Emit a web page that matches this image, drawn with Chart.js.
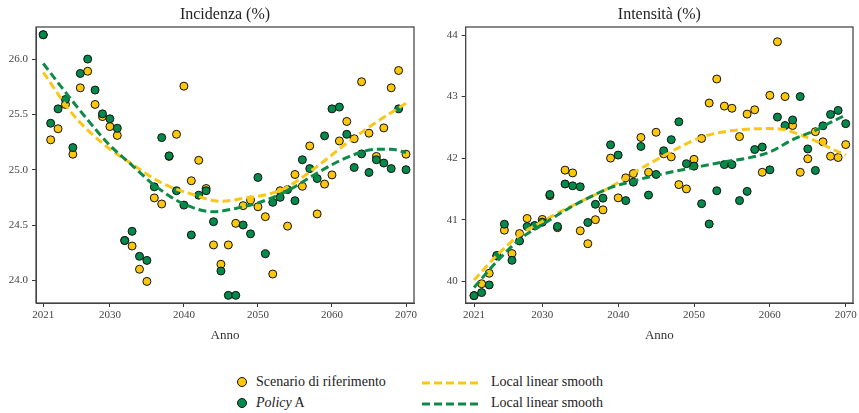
<!DOCTYPE html>
<html>
<head>
<meta charset="utf-8">
<script src="https://cdn.jsdelivr.net/npm/chart.js@4.4.1/dist/chart.umd.min.js"></script>
<style>
  html, body { margin:0; padding:0; background:#fff; overflow:hidden; }
  body { width:859px; height:413px; position:relative; font-family:"Liberation Serif", "DejaVu Serif", serif; }
  canvas { position:absolute; top:0; }
  #c1 { left:0; }
  #c2 { left:430px; }
  .leg { position:absolute; font-size:14px; color:#222; line-height:16px; white-space:nowrap; }
  .dot { position:absolute; width:8px; height:8px; border-radius:50%; border:1px solid #111; }
  .lsvg { position:absolute; }
</style>
</head>
<body>
<canvas id="c1" width="430" height="350"></canvas>
<canvas id="c2" width="429" height="350"></canvas>

<div class="dot" style="left:237px; top:377px; background:#FDC70C;"></div>
<div class="leg" style="left:256px; top:374px;">Scenario di riferimento</div>
<div class="dot" style="left:237px; top:398px; background:#03894A;"></div>
<div class="leg" style="left:256px; top:395px;"><i>Policy</i> A</div>
<svg class="lsvg" style="left:422px; top:376px;" width="60" height="14"><line x1="0" y1="7" x2="60" y2="7" stroke="#F9C61A" stroke-width="3" stroke-dasharray="8,4"/></svg>
<div class="leg" style="left:491px; top:374px;">Local linear smooth</div>
<svg class="lsvg" style="left:422px; top:397px;" width="60" height="14"><line x1="0" y1="7" x2="60" y2="7" stroke="#0E8A47" stroke-width="3" stroke-dasharray="8,4"/></svg>
<div class="leg" style="left:491px; top:395px;">Local linear smooth</div>

<script>
// ---------- DATA ----------
const years = [];
for (let y = 2021; y <= 2070; y++) years.push(y);

const xTicks = [2021, 2030, 2040, 2050, 2060, 2070];
const incidenzaTicks = [24.0, 24.5, 25.0, 25.5, 26.0];
const intensitaTicks = [40, 41, 42, 43, 44];

const incidenzaRiferimento = [
  26.22, 25.27, 25.37, 25.59, 25.14, 25.74, 25.89, 25.59, 25.48, 25.39,
  25.31, 24.36, 24.31, 24.10, 23.99, 24.745, 24.69, 25.12, 25.32, 25.755,
  24.90, 25.085, 24.83, 24.32, 24.145, 24.32, 24.515, 24.675, 24.725, 24.665,
  24.575, 24.057, 24.81, 24.49, 24.957, 24.85, 25.215, 24.60, 24.87, 24.953,
  25.26, 25.436, 25.28, 25.795, 25.33, 25.12, 25.378, 25.74, 25.897, 25.14
];
const incidenzaPolicyA = [
  26.22, 25.42, 25.55, 25.635, 25.20, 25.87, 26.00, 25.72, 25.505, 25.46,
  25.375, 24.36, 24.443, 24.217, 24.18, 24.845, 25.29, 25.125, 24.81, 24.68,
  24.41, 24.77, 24.81, 24.53, 24.084, 23.864, 23.864, 24.50, 24.42, 24.93,
  24.24, 24.705, 24.75, 24.82, 24.72, 25.09, 25.01, 24.92, 25.306, 25.55,
  25.566, 25.32, 25.02, 25.143, 24.975, 25.09, 25.06, 25.01, 25.55, 25.00
];
const intensitaRiferimento = [
  39.767, 39.96, 40.13, 40.41, 40.83, 40.45, 40.775, 41.02, 40.90, 41.005,
  41.39, 40.87, 41.805, 41.76, 40.82, 40.61, 41.00, 41.16, 42.00, 41.355,
  41.68, 41.75, 42.336, 41.77, 42.42, 42.07, 42.02, 41.57, 41.50, 41.98,
  42.32, 42.895, 43.285, 42.845, 42.81, 42.35, 42.715, 42.785, 41.77, 43.02,
  43.89, 43.00, 42.53, 41.77, 41.99, 42.43, 42.265, 42.03, 42.01, 42.22
];
const intensitaPolicyA = [
  39.767, 39.816, 39.94, 40.42, 40.927, 40.34, 40.655, 40.89, 40.906, 40.96,
  41.41, 40.89, 41.58, 41.55, 41.535, 40.955, 41.25, 41.35, 42.216, 42.05,
  41.31, 41.61, 42.19, 41.40, 41.735, 42.12, 42.30, 42.59, 41.91, 41.87,
  41.26, 40.93, 41.47, 41.895, 41.895, 41.31, 41.46, 42.14, 42.18, 41.81,
  42.667, 42.53, 42.62, 43.00, 42.15, 41.80, 42.525, 42.71, 42.775, 42.56
];

// local linear smooth
const incSmoothRifYears = [2021, 2025, 2029, 2033, 2037, 2041, 2045, 2048, 2052, 2054, 2058, 2062, 2066, 2070];
const incSmoothRif      = [25.88, 25.50, 25.24, 25.05, 24.88, 24.78, 24.715, 24.74, 24.79, 24.845, 25.03, 25.24, 25.43, 25.60];
const incSmoothPolYears = [2021, 2024, 2027, 2030, 2033, 2036, 2040, 2044, 2047, 2050, 2054, 2058, 2062, 2066, 2068, 2070];
const incSmoothPol      = [25.96, 25.70, 25.45, 25.22, 25.04, 24.86, 24.69, 24.62, 24.65, 24.70, 24.81, 24.97, 25.11, 25.185, 25.185, 25.155];

const intSmoothRifYears = [2021, 2024, 2027, 2030, 2033, 2036, 2039, 2042, 2045, 2048, 2051, 2054, 2057, 2060, 2062, 2064, 2066, 2068, 2070];
const intSmoothRif      = [40.02, 40.42, 40.75, 40.97, 41.17, 41.35, 41.53, 41.76, 41.97, 42.17, 42.34, 42.43, 42.47, 42.48, 42.46, 42.38, 42.28, 42.16, 42.05];
const intSmoothPolYears = [2021, 2024, 2027, 2030, 2033, 2036, 2039, 2042, 2045, 2048, 2051, 2054, 2057, 2060, 2063, 2066, 2068, 2070];
const intSmoothPol      = [39.90, 40.32, 40.68, 40.92, 41.15, 41.35, 41.52, 41.63, 41.72, 41.80, 41.87, 41.94, 42.00, 42.10, 42.30, 42.45, 42.58, 42.70];

// ---------- STYLE ----------
const YELLOW = '#FDC70C', GREEN = '#03894A';
const YELLOW_LINE = '#F9C61A', GREEN_LINE = '#0E8A47';
const FONT = '"Liberation Serif", "DejaVu Serif", serif';

const pairs = (xs, ys) => xs.map((x, i) => ({ x, y: ys[i] }));

const framePlugin = {
  id: 'frameTitle',
  afterDraw(chart, args, opts) {
    const { ctx, chartArea: { left, top, right, bottom } } = chart;
    ctx.save();
    ctx.strokeStyle = '#4a4a4a';
    ctx.lineWidth = 1.3;
    ctx.strokeRect(left, top, right - left, bottom - top);
    ctx.fillStyle = '#222';
    ctx.font = '16px ' + FONT;
    ctx.textAlign = 'center';
    ctx.textBaseline = 'middle';
    ctx.fillText(opts.text, (left + right) / 2, 15);
    ctx.restore();
  }
};

function makeChart(id, title, rif, pol, sRY, sR, sPY, sP, yTicks, yMin, yMax, xMin, xMax, yWidth, padRight, decimals) {
  return new Chart(document.getElementById(id), {
    type: 'scatter',
    data: {
      datasets: [
        { data: pairs(sPY, sP), showLine: true, borderColor: GREEN_LINE, borderWidth: 3, borderDash: [8, 4],
          pointRadius: 0, cubicInterpolationMode: 'monotone', fill: false, order: 0 },
        { data: pairs(sRY, sR), showLine: true, borderColor: YELLOW_LINE, borderWidth: 3, borderDash: [8, 4],
          pointRadius: 0, cubicInterpolationMode: 'monotone', fill: false, order: 1 },
        { data: pairs(years, pol), backgroundColor: GREEN, borderColor: '#111', borderWidth: 1, pointRadius: 4, order: 2 },
        { data: pairs(years, rif), backgroundColor: YELLOW, borderColor: '#111', borderWidth: 1, pointRadius: 4, order: 3 }
      ]
    },
    options: {
      responsive: false,
      animation: false,
      devicePixelRatio: 1,
      layout: { padding: { top: 27, right: padRight, left: 0, bottom: 0 } },
      plugins: { legend: { display: false }, tooltip: { enabled: false }, title: { display: false },
                 frameTitle: { text: title } },
      scales: {
        x: {
          type: 'linear', min: xMin, max: xMax,
          afterBuildTicks: s => { s.ticks = xTicks.map(v => ({ value: v })); },
          afterFit: s => { s.height = 47; },
          ticks: { callback: v => String(v), font: { family: FONT, size: 11 }, color: '#444', padding: 2, maxRotation: 0 },
          grid: { drawOnChartArea: false, drawTicks: true, tickLength: 4, tickColor: '#333', tickWidth: 1 },
          border: { display: true, color: '#333', width: 1 },
          title: { display: true, text: 'Anno', font: { family: FONT, size: 13 }, color: '#333', padding: { top: 0, bottom: 7 } }
        },
        y: {
          type: 'linear', min: yMin, max: yMax,
          afterBuildTicks: s => { s.ticks = yTicks.map(v => ({ value: v })); },
          afterFit: s => { s.width = yWidth; },
          ticks: { callback: v => v.toFixed(decimals), font: { family: FONT, size: 11 }, color: '#444', padding: 4 },
          grid: { drawOnChartArea: false, drawTicks: true, tickLength: 4, tickColor: '#333', tickWidth: 1 },
          border: { display: true, color: '#333', width: 1 }
        }
      }
    },
    plugins: [framePlugin]
  });
}

makeChart('c1', 'Incidenza (%)', incidenzaRiferimento, incidenzaPolicyA,
  incSmoothRifYears, incSmoothRif, incSmoothPolYears, incSmoothPol,
  incidenzaTicks, 23.795, 26.29, 2020.02, 2071.08, 36, 16, 1);
makeChart('c2', 'Intensità (%)', intensitaRiferimento, intensitaPolicyA,
  intSmoothRifYears, intSmoothRif, intSmoothPolYears, intSmoothPol,
  intensitaTicks, 39.647, 44.13, 2019.9, 2070.96, 35.7, 6, 0);
</script>
</body>
</html>
